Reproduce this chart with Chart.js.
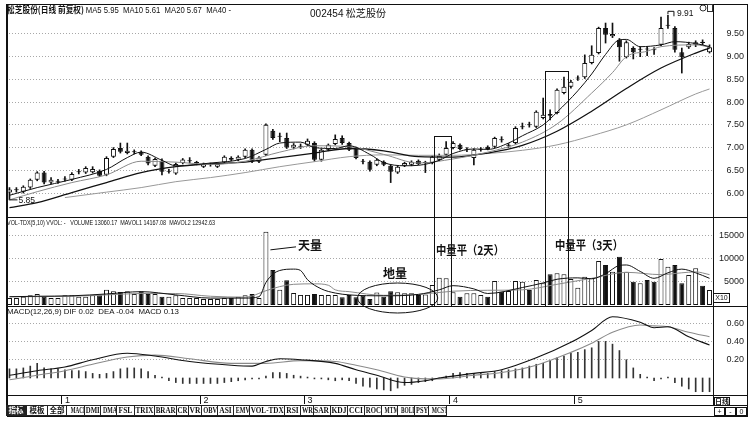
<!DOCTYPE html>
<html>
<head>
<meta charset="utf-8">
<script src="https://cdn.jsdelivr.net/npm/chart.js@4.4.1/dist/chart.umd.min.js"></script>
<style>
html,body{margin:0;padding:0;background:#fff;}
#wrap{position:relative;width:753px;height:427px;overflow:hidden;background:#fff;font-family:"Liberation Sans","DejaVu Sans",Arial,sans-serif;color:#111;}
#wrap canvas{position:absolute;left:0;}
.ov{position:absolute;white-space:nowrap;line-height:1;}
.hl{position:absolute;background:#111;height:1px;}
.vl{position:absolute;background:#111;width:1px;}
.box{position:absolute;border:1px solid #111;box-sizing:border-box;}
.cjk{font-family:"Noto Sans CJK SC","Noto Sans",sans-serif;}
#tabs{position:absolute;left:6px;top:405px;height:11px;display:flex;}
#tabs div{box-sizing:border-box;border:1px solid #222;border-left:none;font:bold 7.5px "Liberation Serif","Noto Sans CJK SC",serif;line-height:9px;text-align:center;height:11px;overflow:hidden;white-space:nowrap;}
#tabs div span{display:inline-block;transform-origin:center center;}
#tabs div.sel{background:#222;color:#fff;}
svg{position:absolute;left:0;top:0;}
</style>
</head>
<body>
<div id="wrap">
<canvas id="cP" width="753" height="217" style="top:0"></canvas>
<canvas id="cV" width="753" height="89" style="top:217px"></canvas>
<canvas id="cM" width="753" height="100" style="top:306px"></canvas>
</div>
<script>
// ---------- data ----------
const days = Array.from({length:102},(_,i)=>String(i+1));
const openP = [6.01,6.06,6.03,6.12,6.29,6.45,6.23,6.25,6.30,6.29,
 6.46,6.45,6.46,6.49,6.40,6.80,6.99,6.88,6.90,6.91,
 6.80,6.60,6.71,6.47,6.43,6.66,6.70,6.66,6.58,6.62,
 6.58,6.67,6.77,6.73,6.80,6.95,6.69,6.84,7.37,7.24,
 7.21,7.00,7.02,7.06,7.10,6.73,6.95,7.08,7.21,7.10,
 6.99,6.70,6.69,6.62,6.69,6.60,6.45,6.60,6.62,6.71,
 6.66,6.66,6.73,6.84,6.99,7.06,6.95,6.77,6.95,7.02,
 7.02,7.17,7.04,7.10,7.45,7.50,7.46,7.65,7.74,7.76,
 8.20,8.34,8.52,8.55,8.86,9.08,9.63,9.45,9.37,8.99,
 9.19,9.15,9.17,9.16,9.26,9.68,9.63,9.10,9.21,9.26,
 9.33,9.10];
const highP = [6.12,6.12,6.16,6.31,6.47,6.48,6.34,6.30,6.36,6.45,
 6.52,6.58,6.58,6.51,6.80,7.00,7.10,7.10,6.95,6.93,
 6.82,6.77,6.75,6.52,6.66,6.76,6.78,6.70,6.66,6.66,
 6.65,6.82,6.80,6.82,6.97,6.97,6.80,7.52,7.40,7.32,
 7.32,7.09,7.08,7.19,7.13,6.97,7.08,7.28,7.26,7.12,
 7.01,6.74,6.71,6.75,6.71,6.62,6.60,6.68,6.71,6.73,
 6.70,6.82,6.86,7.13,7.13,7.08,7.00,6.97,7.00,7.04,
 7.23,7.24,7.09,7.46,7.54,7.56,7.81,8.09,7.83,8.29,
 8.55,8.48,8.58,9.04,9.24,9.65,9.74,9.74,9.40,9.35,
 9.22,9.22,9.22,9.20,9.87,9.91,9.66,9.19,9.32,9.35,
 9.37,9.26];
const lowP = [5.85,6.02,6.00,6.10,6.27,6.20,6.20,6.21,6.26,6.27,
 6.42,6.43,6.44,6.36,6.38,6.78,6.88,6.86,6.86,6.82,
 6.62,6.58,6.40,6.44,6.41,6.64,6.66,6.62,6.56,6.59,
 6.56,6.65,6.71,6.71,6.78,6.67,6.67,6.82,7.18,7.13,
 6.98,6.97,6.98,7.04,6.70,6.70,6.93,7.06,7.07,6.93,
 6.75,6.64,6.48,6.60,6.60,6.23,6.43,6.58,6.60,6.62,
 6.45,6.64,6.71,6.82,6.97,6.95,6.91,6.62,6.92,6.95,
 7.00,7.12,7.00,7.08,7.41,7.45,7.44,7.63,7.61,7.74,
 8.18,8.31,8.48,8.52,8.84,9.06,9.30,9.42,8.90,8.97,
 8.95,9.00,9.02,9.05,9.24,9.62,9.10,8.64,9.18,9.22,
 9.26,9.08];
const closeP = [6.08,6.07,6.14,6.29,6.45,6.23,6.29,6.26,6.31,6.42,
 6.47,6.55,6.53,6.38,6.77,6.97,6.91,6.93,6.91,6.84,
 6.65,6.75,6.47,6.48,6.64,6.74,6.71,6.67,6.64,6.63,
 6.64,6.80,6.73,6.80,6.95,6.69,6.78,7.50,7.21,7.25,
 7.00,7.06,7.03,7.15,6.73,6.95,7.06,7.19,7.10,6.95,
 6.77,6.69,6.51,6.73,6.62,6.47,6.58,6.66,6.69,6.64,
 6.67,6.80,6.82,6.99,7.10,6.97,6.96,6.95,6.96,6.97,
 7.21,7.16,7.05,7.43,7.46,7.49,7.79,7.72,7.70,8.27,
 8.34,8.45,8.53,8.86,9.04,9.63,9.48,9.50,9.21,9.32,
 9.10,9.15,9.16,9.14,9.63,9.70,9.15,8.99,9.28,9.32,
 9.30,9.21];
const volume = [1500,1500,1800,2100,2400,1800,1500,1500,2100,2100,
 1800,1800,2100,2100,3300,3000,2800,3000,2400,3000,
 2400,2400,1800,1800,2100,1500,1500,1500,1300,1300,
 1300,1500,1500,1800,2100,2400,1500,15900,7600,3300,
 5400,2600,2200,2200,2400,2200,2200,2200,1700,2200,
 1700,2000,1300,2700,1800,3000,2750,2540,2540,2170,
 2300,4350,5940,5800,2750,1810,2540,2540,2170,1810,
 5200,2900,3040,5200,5070,3260,5430,4710,6670,6880,
 6670,5650,3770,6160,5800,9570,8700,7250,10500,7250,
 5070,4710,5430,5070,10000,8330,8700,4710,6520,7970,
 4200,3260];
const macdHist = [0.10,0.10,0.11,0.13,0.16,0.11,0.10,0.10,0.09,0.08,
 0.08,0.07,0.05,0.04,0.05,0.07,0.10,0.11,0.11,0.10,
 0.07,0.03,0.01,-0.03,-0.05,-0.06,-0.06,-0.06,-0.06,-0.06,
 -0.06,-0.05,-0.04,-0.03,-0.02,-0.01,-0.01,0.02,0.06,0.06,
 0.05,0.03,0.02,0.01,-0.01,-0.01,-0.02,-0.03,-0.02,-0.03,
 -0.06,-0.09,-0.10,-0.12,-0.13,-0.14,-0.11,-0.08,-0.07,-0.05,
 -0.04,-0.03,0.00,0.02,0.05,0.06,0.05,0.05,0.05,0.05,
 0.07,0.08,0.09,0.10,0.11,0.13,0.15,0.16,0.19,0.22,
 0.24,0.27,0.28,0.31,0.33,0.40,0.40,0.37,0.30,0.20,
 0.11,0.04,0.01,-0.03,-0.01,0.01,-0.05,-0.09,-0.12,-0.15,
 -0.15,-0.15];
// line series read at sample days: [day, value]
const ma5Pts = [[1,5.95],[5,6.12],[10,6.30],[15,6.52],[18,6.78],[20,6.90],[23,6.72],[25,6.60],[30,6.66],[35,6.76],[38,6.96],[40,7.10],[43,7.12],[45,7.00],[48,6.98],[50,7.04],[53,6.85],[55,6.67],[58,6.60],[60,6.61],[63,6.72],[65,6.87],[68,6.97],[70,6.96],[73,7.10],[75,7.26],[78,7.50],[80,7.78],[83,8.25],[85,8.62],[87,9.05],[89,9.37],[90,9.38],[92,9.22],[95,9.26],[97,9.33],[100,9.29],[102,9.22]];
const ma10Pts = [[1,5.85],[5,6.03],[10,6.23],[15,6.40],[20,6.70],[25,6.68],[30,6.63],[35,6.70],[40,6.90],[45,7.04],[50,7.02],[55,6.85],[60,6.66],[65,6.75],[70,6.90],[75,7.12],[80,7.52],[85,8.20],[88,8.65],[90,9.00],[93,9.12],[95,9.22],[100,9.26],[102,9.21]];
const ma20Pts = [[1,5.68],[5,5.79],[10,6.01],[15,6.23],[20,6.45],[25,6.58],[30,6.64],[35,6.68],[40,6.78],[45,6.88],[50,6.98],[55,6.93],[60,6.80],[65,6.79],[70,6.88],[75,7.05],[80,7.36],[85,7.80],[90,8.30],[95,8.75],[100,9.08],[102,9.19]];
const ma40Pts = [[9,5.90],[15,6.02],[20,6.12],[25,6.25],[30,6.34],[35,6.45],[40,6.58],[45,6.69],[50,6.80],[55,6.84],[60,6.83],[65,6.83],[70,6.87],[75,6.94],[80,7.06],[85,7.26],[90,7.50],[95,7.83],[100,8.18],[102,8.29]];
const mavol1Pts = [[1,1800],[5,1900],[10,2000],[15,2400],[20,2900],[25,2200],[30,1500],[35,1500],[37,1800],[38,4900],[39,6700],[40,7500],[42,7800],[43,7500],[44,5500],[46,3500],[48,2600],[50,2200],[55,2000],[60,2300],[63,3300],[65,4200],[68,3500],[70,2500],[75,3800],[78,4800],[80,5600],[83,5900],[85,5700],[87,6800],[89,8600],[90,8700],[92,7300],[94,5800],[96,7000],[98,7800],[100,7000],[102,5800]];
const mavol2Pts = [[1,1800],[10,1900],[15,2200],[20,2500],[25,2500],[30,1900],[35,1700],[38,3100],[40,4000],[42,4500],[45,4600],[47,4300],[48,3300],[50,2900],[55,2100],[60,2300],[65,3000],[70,3200],[75,3300],[80,4500],[85,5800],[90,7100],[95,6600],[98,7000],[100,7200],[102,6600]];
const difPts = [[1,0.03],[5,0.08],[9,0.12],[13,0.20],[18,0.27],[22,0.24],[27,0.18],[33,0.14],[36,0.13],[38,0.18],[40,0.21],[43,0.20],[48,0.16],[51,0.09],[54,0.03],[58,-0.05],[61,-0.03],[63,0.00],[68,0.05],[72,0.09],[77,0.22],[82,0.39],[85,0.52],[88,0.67],[92,0.61],[94,0.55],[96,0.56],[99,0.45],[102,0.36]];
const deaPts = [[1,-0.02],[5,0.03],[9,0.08],[13,0.15],[18,0.23],[22,0.25],[27,0.21],[33,0.16],[38,0.16],[43,0.19],[48,0.18],[51,0.14],[54,0.09],[58,0.01],[61,-0.01],[63,-0.01],[68,0.03],[72,0.06],[77,0.14],[82,0.28],[85,0.38],[88,0.50],[92,0.58],[94,0.57],[96,0.56],[99,0.50],[102,0.45]];
const priceTicks = [6.0,6.5,7.0,7.5,8.0,8.5,9.0,9.5];
const volTicks = [5000,10000,15000];
const macdTicks = [0.2,0.4,0.6];
const monthLabels = {8:'1',28:'2',43:'3',64:'4',82:'5'};
const tabNames = ['指标','模板','全部','MACD','DMI','DMA','FSL','TRIX','BRAR','CR','VR','OBV','ASI','EMV','VOL-TDX','RSI','WR','SAR','KDJ','CCI','ROC','MTM','BOLL','PSY','MCST'];

// ---------- build ----------
const N = days.length;
function spread(pts){ const a = new Array(N).fill(null); pts.forEach(([d,v])=>{a[d-1]=v;}); return a; }
const up = closeP.map((c,i)=>c>=openP[i]);
const bodyData = openP.map((o,i)=>[Math.min(o,closeP[i]),Math.max(o,closeP[i])]);
const wickData = lowP.map((l,i)=>[l,highP[i]]);
const FONT = 'Liberation Sans';

function lineDs(pts,color,w){
  return {type:'line',data:spread(pts),borderColor:color,borderWidth:w,pointRadius:0,spanGaps:true,
    cubicInterpolationMode:'monotone',fill:false,order:0};
}
function yAxis(min,max,ticks,fmt){
  return {position:'right',min:min,max:max,
    afterBuildTicks:s=>{s.ticks=ticks.map(v=>({value:v}));},
    afterFit:s=>{s.width=31;s.paddingTop=0;s.paddingBottom=0;},
    ticks:{callback:fmt,font:{family:FONT,size:9},color:'#222',crossAlign:'far',padding:2},
    grid:{color:'#a8a8a8',lineWidth:1,drawTicks:false},
    border:{display:false,dash:[1,2]}};
}
function xHidden(){ return {display:false,offset:true,grid:{offset:true}}; }
function baseOpts(pad,scales){
  return {responsive:false,animation:false,devicePixelRatio:1,events:[],
    layout:{padding:pad},
    plugins:{legend:{display:false},tooltip:{enabled:false}},
    scales:scales};
}

const chartP = new Chart(document.getElementById('cP'),{
  type:'bar',
  data:{labels:days,datasets:[
    lineDs(ma5Pts,'#111',1),
    lineDs(ma10Pts,'#8a8a8a',1),
    lineDs(ma20Pts,'#111',1.3),
    lineDs(ma40Pts,'#999',1),
    {type:'bar',data:bodyData,backgroundColor:up.map(u=>u?'#fff':'#111'),borderColor:'#111',borderWidth:1,
      borderSkipped:false,minBarLength:1,barPercentage:0.72,categoryPercentage:1,grouped:false,order:2},
    {type:'bar',data:wickData,backgroundColor:'#111',barThickness:1,grouped:false,order:3}
  ]},
  options:baseOpts({left:6,right:9,top:5,bottom:1},{x:xHidden(),y:yAxis(5.495,10.137,priceTicks,v=>v.toFixed(2))})
});

const chartV = new Chart(document.getElementById('cV'),{
  type:'bar',
  data:{labels:days,datasets:[
    lineDs(mavol1Pts,'#111',1),
    lineDs(mavol2Pts,'#8a8a8a',1),
    {type:'bar',data:volume,backgroundColor:up.map(u=>u?'#fff':'#111'),borderColor:'#111',borderWidth:1,
      borderSkipped:false,barPercentage:0.72,categoryPercentage:1,grouped:false,order:2}
  ]},
  options:baseOpts({left:6,right:9,top:0,bottom:1},{x:xHidden(),y:yAxis(0,19130,volTicks,v=>String(v))})
});

const chartM = new Chart(document.getElementById('cM'),{
  type:'bar',
  data:{labels:days,datasets:[
    lineDs(difPts,'#111',1.1),
    lineDs(deaPts,'#8a8a8a',1.1),
    {type:'bar',data:macdHist,backgroundColor:'#333',barThickness:1,grouped:false,order:2}
  ]},
  options:baseOpts({left:6,right:9,top:0,bottom:1},{
    x:{display:true,offset:true,
      grid:{offset:true,drawOnChartArea:false,drawTicks:true,tickLength:9,lineWidth:1,
        color:c=>(monthLabels[c.index]!==undefined?'#111':'rgba(0,0,0,0)')},
      border:{display:false},
      ticks:{autoSkip:false,maxRotation:0,minRotation:0,align:'start',padding:-9,
        font:{family:FONT,size:9},color:'#111',callback:(v,i)=>monthLabels[i]||''},
      afterFit:s=>{s.height=10;s.paddingLeft=0;s.paddingRight=0;}},
    y:yAxis(-0.186,0.787,macdTicks,v=>v.toFixed(2))
  })
});

// ---------- overlays ----------
const wrap = document.getElementById('wrap');
function el(tag,cls,style,html){
  const d=document.createElement(tag); if(cls) d.className=cls;
  Object.assign(d.style,style); if(html!==undefined) d.innerHTML=html; wrap.appendChild(d); return d;
}
function fit(d,w){ const cw=d.getBoundingClientRect().width; if(cw>0){d.style.transformOrigin='0 0';d.style.transform='scaleX('+(w/cw)+')';} }
const xs = chartP.scales.x, yP = chartP.scales.y, yV = chartV.scales.y;
const step = xs.getPixelForValue(1)-xs.getPixelForValue(0);
const px = i=>xs.getPixelForValue(i);
const VTOP = 217;

// frame lines
el('div','hl',{left:'7px',top:'4px',width:'741px'});
el('div','vl',{left:'6px',top:'4px',height:'412px',width:'2px'});
el('div','vl',{left:'713px',top:'4px',height:'401px'});
el('div','vl',{left:'747px',top:'4px',height:'413px'});
[217,306,395,405,416].forEach(y=>el('div','hl',{left:'7px',top:y+'px',width:'741px'}));

// titles
const t1 = el('div','ov cjk',{left:'7px',top:'5px',fontSize:'9px'},'<b>松芝股份(日线 前复权)</b> <span style="font-family:Liberation Sans">MA5 5.95 &nbsp;MA10 5.61 &nbsp;MA20 5.67 &nbsp;MA40 -</span>');
fit(t1,224);
const t2 = el('div','ov cjk',{left:'310px',top:'8px',fontSize:'10.5px'},'<span style="font-family:Liberation Sans">002454</span> 松芝股份');
fit(t2,76);
const t3 = el('div','ov',{left:'7px',top:'219px',fontSize:'8px'},'VOL-TDX(5,10) VVOL: - &nbsp; VOLUME 13060.17 &nbsp;MAVOL1 14167.08 &nbsp;MAVOL2 12942.63');
fit(t3,208);
const t4 = el('div','ov',{left:'7px',top:'308px',fontSize:'8px'},'MACD(12,26,9) DIF 0.02 &nbsp;DEA -0.04 &nbsp;MACD 0.13');
fit(t4,172);

// annotations
el('div','ov cjk',{left:'298px',top:'239px',fontSize:'12px',fontWeight:'bold'},'天量');
el('div','ov cjk',{left:'383px',top:'267px',fontSize:'12px',fontWeight:'bold'},'地量');
const a3 = el('div','ov cjk',{left:'436px',top:'244px',fontSize:'12px',fontWeight:'bold'},'中量平（2天）');
fit(a3,68);
const a4 = el('div','ov cjk',{left:'555px',top:'239px',fontSize:'12px',fontWeight:'bold'},'中量平（3天）');
fit(a4,68);

// highlight boxes (positions from scales)
function hbox(i0,i1,topPrice){
  const l = px(i0)-step/2-2, r = px(i1)+step/2+2;
  const t = yP.getPixelForValue(topPrice);
  const b = VTOP + yV.bottom + 2;
  el('div','box',{left:l+'px',top:t+'px',width:(r-l)+'px',height:(b-t)+'px'});
}
hbox(62,63,7.25);
hbox(78,80,8.68);

// svg for lines/arrows/ellipse/icons
const NS='http://www.w3.org/2000/svg';
const svg=document.createElementNS(NS,'svg'); svg.setAttribute('width','753'); svg.setAttribute('height','427');
wrap.appendChild(svg);
function sv(tag,attrs){ const e=document.createElementNS(NS,tag); for(const k in attrs) e.setAttribute(k,attrs[k]); svg.appendChild(e); return e; }
const tx = px(37)+step/2+1, ty = VTOP + yV.getPixelForValue(volume[37]) + 18;
sv('line',{x1:tx,y1:ty,x2:296,y2:ty-3,stroke:'#111','stroke-width':1});
const el0 = px(51)-step/2-2, el1 = px(61)+step/2+2;
sv('ellipse',{cx:(el0+el1)/2,cy:298,rx:(el1-el0)/2,ry:15,fill:'none',stroke:'#111','stroke-width':1});
const hx = px(95), hy = yP.getPixelForValue(9.91);
sv('polyline',{points:`${hx},${hy-1} ${hx},${hy-4} ${hx+6},${hy-4} ${hx+6},${hy+1}`,fill:'none',stroke:'#111','stroke-width':1});
el('div','ov',{left:(hx+9)+'px',top:(hy-6)+'px',fontSize:'8.5px'},'9.91');
const lx = px(0), ly = yP.getPixelForValue(5.85);
sv('line',{x1:lx,y1:ly,x2:lx+8,y2:ly,stroke:'#111','stroke-width':1});
el('div','ov',{left:(lx+9)+'px',top:(ly-4)+'px',fontSize:'8.5px'},'5.85');
// window icons at top right
sv('circle',{cx:703,cy:8,r:3,fill:'none',stroke:'#333','stroke-width':1});
sv('rect',{x:707.5,y:4.5,width:5,height:7,fill:'none',stroke:'#333','stroke-width':1});

// X10 box
el('div','box ov',{left:'713px',top:'293px',width:'17px',height:'10px',fontSize:'7px',lineHeight:'8px',textAlign:'center'},'X10');

// tabs
const tabs = el('div','',{}); tabs.id='tabs';
const tabW = [21,21,19,18,16,16,18,20,22,12,13,16,16,16,35,16,13,17,17,17,17,16,17,14,18];
tabNames.forEach((n,i)=>{
  const d=document.createElement('div'); d.style.width=tabW[i]+'px'; if(i===0){d.className='sel';}
  const s=document.createElement('span'); s.textContent=n; d.appendChild(s); tabs.appendChild(d);
  const w=s.getBoundingClientRect().width, avail=tabW[i]-2;
  if(w>avail) s.style.transform='scaleX('+(avail/w)+')';
});
el('div','box ov cjk',{left:'714px',top:'397px',width:'16px',height:'9px',fontSize:'7px',lineHeight:'7px',textAlign:'center',fontWeight:'bold'},'日线');
['+','-','0'].forEach((c,i)=>el('div','box ov',{left:(714+i*11)+'px',top:'407px',width:'11px',height:'9px',fontSize:'7px',lineHeight:'7px',textAlign:'center'},c));
</script>
</body>
</html>
